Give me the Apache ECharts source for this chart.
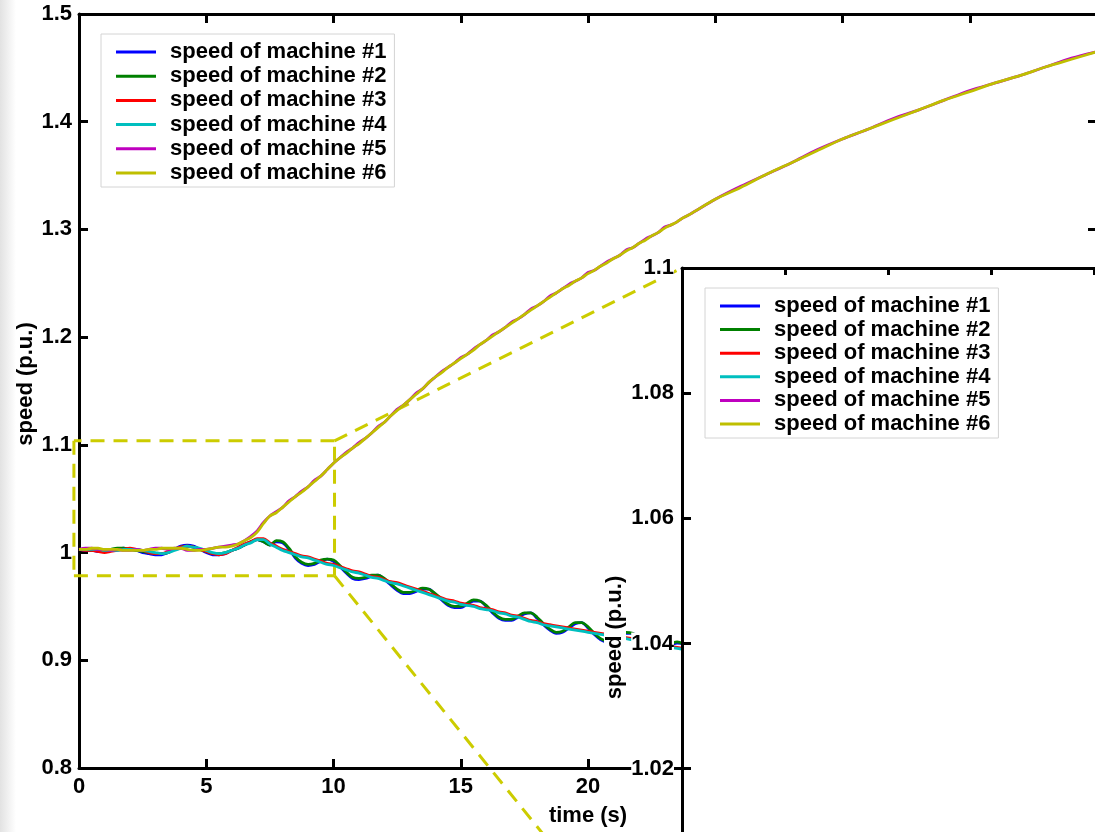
<!DOCTYPE html>
<html>
<head>
<meta charset="utf-8">
<title>speed of machines</title>
<script src="https://cdn.jsdelivr.net/npm/echarts@6.0.0/dist/echarts.min.js"></script>
<style>
    html, body { margin: 0; padding: 0; background: #fff; }
    #chart { width: 1095px; height: 832px; }
</style>
</head>
<body>
<div id="chart"></div>
<script>
// time samples (s): 0.25 s steps up to 24 s, then 1 s steps
var timeSec = [
    0, 0.25, 0.5, 0.75, 1, 1.25, 1.5, 1.75, 2, 2.25, 2.5, 2.75,
    3, 3.25, 3.5, 3.75, 4, 4.25, 4.5, 4.75, 5, 5.25, 5.5, 5.75,
    6, 6.25, 6.5, 6.75, 7, 7.25, 7.5, 7.75, 8, 8.25, 8.5, 8.75,
    9, 9.25, 9.5, 9.75, 10, 10.25, 10.5, 10.75, 11, 11.25, 11.5, 11.75,
    12, 12.25, 12.5, 12.75, 13, 13.25, 13.5, 13.75, 14, 14.25, 14.5, 14.75,
    15, 15.25, 15.5, 15.75, 16, 16.25, 16.5, 16.75, 17, 17.25, 17.5, 17.75,
    18, 18.25, 18.5, 18.75, 19, 19.25, 19.5, 19.75, 20, 20.25, 20.5, 20.75,
    21, 21.25, 21.5, 21.75, 22, 22.25, 22.5, 22.75, 23, 23.25, 23.5, 23.75,
    24, 25, 26, 27, 28, 29, 30, 31, 32, 33, 34, 35, 36, 37, 38, 39, 40
];

var speed1 = [
    1.003, 1.002, 1.002, 1.001, 1.001, 1.002, 1.003, 1.004, 1.003, 1.002, 1.000, 0.999,
    0.998, 0.998, 1.000, 1.003, 1.006, 1.007, 1.006, 1.003, 1.000, 0.998, 0.998, 0.999,
    1.002, 1.004, 1.007, 1.010, 1.012, 1.010, 1.007, 1.010, 1.009, 1.003, 0.995, 0.990,
    0.988, 0.989, 0.992, 0.994, 0.992, 0.987, 0.981, 0.976, 0.975, 0.976, 0.978, 0.979,
    0.975, 0.970, 0.965, 0.962, 0.962, 0.964, 0.966, 0.966, 0.961, 0.956, 0.951, 0.949,
    0.949, 0.952, 0.955, 0.955, 0.950, 0.944, 0.939, 0.937, 0.937, 0.940, 0.943, 0.944,
    0.939, 0.933, 0.928, 0.925, 0.926, 0.930, 0.934, 0.935, 0.930, 0.924, 0.919, 0.917,
    0.918, 0.922, 0.925, 0.925, 0.920, 0.914, 0.910, 0.909, 0.910, 0.914, 0.916, 0.915,
    0.910
];
var speed2 = [
    1.003, 1.003, 1.002, 1.002, 1.002, 1.003, 1.004, 1.004, 1.003, 1.002, 1.001, 1.000,
    0.999, 0.999, 1.000, 1.003, 1.005, 1.006, 1.005, 1.003, 1.001, 0.999, 0.999, 1.000,
    1.002, 1.004, 1.007, 1.010, 1.012, 1.010, 1.007, 1.011, 1.010, 1.004, 0.996, 0.991,
    0.989, 0.990, 0.993, 0.994, 0.993, 0.988, 0.982, 0.977, 0.976, 0.977, 0.979, 0.979,
    0.976, 0.971, 0.966, 0.963, 0.963, 0.965, 0.967, 0.966, 0.962, 0.957, 0.952, 0.950,
    0.950, 0.953, 0.956, 0.955, 0.951, 0.945, 0.940, 0.938, 0.938, 0.941, 0.944, 0.944,
    0.940, 0.934, 0.929, 0.926, 0.927, 0.931, 0.935, 0.935, 0.931, 0.925, 0.920, 0.918,
    0.919, 0.923, 0.926, 0.925, 0.921, 0.915, 0.911, 0.910, 0.911, 0.915, 0.917, 0.915,
    0.911
];
var speed3 = [
    1.003, 1.002, 1.002, 1.001, 1.000, 1.001, 1.002, 1.003, 1.004, 1.003, 1.002, 1.000,
    0.999, 0.999, 1.001, 1.003, 1.005, 1.006, 1.005, 1.003, 1.001, 0.999, 0.998, 0.999,
    1.002, 1.005, 1.008, 1.010, 1.013, 1.013, 1.009, 1.006, 1.003, 1.001, 0.999, 0.997,
    0.996, 0.994, 0.992, 0.990, 0.989, 0.987, 0.985, 0.983, 0.982, 0.980, 0.978, 0.977,
    0.975, 0.973, 0.972, 0.970, 0.968, 0.966, 0.964, 0.962, 0.960, 0.958, 0.956, 0.955,
    0.953, 0.952, 0.951, 0.949, 0.948, 0.947, 0.945, 0.944, 0.942, 0.941, 0.939, 0.937,
    0.936, 0.934, 0.933, 0.932, 0.931, 0.930, 0.929, 0.928, 0.927, 0.926, 0.925, 0.924,
    0.923, 0.922, 0.921, 0.920, 0.919, 0.918, 0.916, 0.915, 0.914, 0.913, 0.912, 0.911,
    0.910
];
var speed4 = [
    1.003, 1.003, 1.003, 1.003, 1.002, 1.002, 1.002, 1.003, 1.003, 1.003, 1.002, 1.001,
    1.000, 0.999, 1.000, 1.002, 1.004, 1.006, 1.005, 1.004, 1.002, 1.000, 0.999, 1.000,
    1.002, 1.004, 1.007, 1.009, 1.012, 1.012, 1.008, 1.005, 1.002, 1.000, 0.998, 0.996,
    0.995, 0.993, 0.991, 0.989, 0.988, 0.986, 0.984, 0.982, 0.981, 0.979, 0.977, 0.976,
    0.974, 0.972, 0.971, 0.969, 0.967, 0.965, 0.963, 0.961, 0.959, 0.957, 0.955, 0.954,
    0.952, 0.951, 0.950, 0.948, 0.947, 0.946, 0.944, 0.943, 0.941, 0.940, 0.938, 0.936,
    0.935, 0.933, 0.932, 0.931, 0.930, 0.929, 0.928, 0.927, 0.926, 0.925, 0.924, 0.923,
    0.922, 0.921, 0.920, 0.919, 0.918, 0.917, 0.915, 0.914, 0.913, 0.912, 0.911, 0.910,
    0.909
];
var speed5 = [
    1.003, 1.004, 1.004, 1.003, 1.003, 1.002, 1.003, 1.002, 1.002, 1.003, 1.002, 1.003,
    1.004, 1.004, 1.003, 1.004, 1.004, 1.002, 1.002, 1.003, 1.003, 1.004, 1.005, 1.006,
    1.007, 1.008, 1.011, 1.015, 1.020, 1.028, 1.034, 1.038, 1.042, 1.048, 1.052, 1.057,
    1.061, 1.067, 1.071, 1.077, 1.083, 1.088, 1.093, 1.097, 1.102, 1.106, 1.111, 1.117,
    1.121, 1.127, 1.133, 1.137, 1.142, 1.148, 1.152, 1.158, 1.163, 1.168, 1.172, 1.176,
    1.181, 1.184, 1.189, 1.193, 1.197, 1.202, 1.205, 1.209, 1.214, 1.217, 1.221, 1.226,
    1.229, 1.233, 1.238, 1.241, 1.245, 1.249, 1.252, 1.255, 1.260, 1.262, 1.266, 1.270,
    1.273, 1.276, 1.281, 1.283, 1.287, 1.291, 1.294, 1.297, 1.302, 1.304, 1.307, 1.311,
    1.314, 1.328, 1.340, 1.351, 1.362, 1.374, 1.384, 1.393, 1.403, 1.411, 1.420, 1.429,
    1.436, 1.443, 1.451, 1.459, 1.465
];
var speed6 = [
    1.003, 1.003, 1.004, 1.004, 1.003, 1.003, 1.003, 1.002, 1.002, 1.002, 1.002, 1.003,
    1.003, 1.004, 1.004, 1.004, 1.004, 1.003, 1.002, 1.002, 1.003, 1.004, 1.005, 1.005,
    1.006, 1.008, 1.011, 1.014, 1.019, 1.027, 1.034, 1.037, 1.042, 1.047, 1.052, 1.056,
    1.061, 1.066, 1.071, 1.077, 1.083, 1.088, 1.092, 1.097, 1.101, 1.106, 1.111, 1.116,
    1.121, 1.127, 1.132, 1.137, 1.142, 1.147, 1.152, 1.158, 1.163, 1.167, 1.172, 1.176,
    1.180, 1.184, 1.188, 1.193, 1.197, 1.201, 1.205, 1.209, 1.213, 1.217, 1.221, 1.225,
    1.229, 1.233, 1.237, 1.241, 1.245, 1.248, 1.252, 1.255, 1.259, 1.262, 1.266, 1.269,
    1.273, 1.276, 1.280, 1.283, 1.287, 1.290, 1.294, 1.297, 1.301, 1.304, 1.307, 1.311,
    1.314, 1.328, 1.339, 1.351, 1.362, 1.373, 1.384, 1.393, 1.402, 1.411, 1.420, 1.428,
    1.436, 1.443, 1.451, 1.458, 1.465
];

var machineNames = [
    "speed of machine #1", "speed of machine #2", "speed of machine #3",
    "speed of machine #4", "speed of machine #5", "speed of machine #6"
];
var machineSpeeds = [speed1, speed2, speed3, speed4, speed5, speed6];
var machineColors = ["#0000ff", "#008000", "#ff0000", "#00bfbf", "#bf00bf", "#bfbf00"];

// dashed zoom box (time / speed limits) and where its links meet the inset corners
var boxTime = [-0.2, 10.04];
var boxSpeed = [0.9785, 1.1037];
var linkEndTime = 23.69;
var linkEndSpeed = [0.579, 1.2642];

var FONT = "'Liberation Sans', Arial, sans-serif";
var textBold = { color: "#000", fontFamily: FONT, fontWeight: "bold", fontSize: 22 };

function pairs(xs, ys) {
    return ys.map(function (v, i) {
        return [xs[i], v];
    });
}

// segments [t1, v1, t2, v2] of the zoom box and its two link lines
var zoomSegments = [
    [boxTime[0], boxSpeed[0], boxTime[1], boxSpeed[0]],
    [boxTime[1], boxSpeed[0], boxTime[1], boxSpeed[1]],
    [boxTime[1], boxSpeed[1], boxTime[0], boxSpeed[1]],
    [boxTime[0], boxSpeed[1], boxTime[0], boxSpeed[0]],
    [boxTime[1], boxSpeed[1], linkEndTime, linkEndSpeed[1]],
    [boxTime[1], boxSpeed[0], linkEndTime, linkEndSpeed[0]],
];

function frame(extra) {
    var axis = {
        type: "value",
        axisLine: { onZero: false, lineStyle: { color: "#000", width: 3 } },
        axisTick: { inside: true, length: 9, lineStyle: { color: "#000", width: 3 } },
        axisLabel: { show: false },
        splitLine: { show: false },
    };
    return Object.assign(axis, extra);
}

function machineLine(k, axisIdx, layer) {
    return {
        name: machineNames[k],
        type: "line",
        xAxisIndex: axisIdx,
        yAxisIndex: axisIdx,
        zlevel: layer,
        data: pairs(timeSec, machineSpeeds[k]),
        showSymbol: false,
        symbol: "none",
        smooth: 0.3,
        lineStyle: { color: machineColors[k], width: 2.8 },
        itemStyle: { color: machineColors[k] },
        emphasis: { disabled: true },
    };
}

function legendBox(left, top, gap, layer) {
    return {
        data: machineNames,
        orient: "vertical",
        left: left,
        top: top,
        zlevel: layer,
        selectedMode: false,
        icon: "rect",
        itemWidth: 40,
        itemHeight: 3,
        itemGap: gap,
        padding: [7, 8, 3, 15],
        backgroundColor: "#fff",
        borderColor: "#d4d4d4",
        borderWidth: 1,
        borderRadius: 0,
        textStyle: Object.assign({ lineHeight: 22, padding: [0, 0, 0, 9] }, textBold),
    };
}

var series = [];
for (var k = 0; k < 6; k++) series.push(machineLine(k, 0, 0));
series.push({
    type: "custom",
    xAxisIndex: 0,
    yAxisIndex: 0,
    clip: false,
    silent: true,
    data: zoomSegments,
    renderItem: function (params, api) {
        var p1 = api.coord([api.value(0), api.value(1)]);
        var p2 = api.coord([api.value(2), api.value(3)]);
        return {
            type: "line",
            shape: { x1: p1[0], y1: p1[1], x2: p2[0], y2: p2[1] },
            style: { stroke: "#cccc00", lineWidth: 3, lineDash: [14, 9], fill: null },
        };
    },
});
for (var j = 0; j < 6; j++) series.push(machineLine(j, 2, 1));

var chart = echarts.init(document.getElementById("chart"));
chart.setOption({
    animation: false,
    backgroundColor: "#fff",
    graphic: [{
        type: "rect",
        left: 0,
        top: 0,
        z: -10,
        shape: { width: 16, height: 832 },
        style: {
            fill: new echarts.graphic.LinearGradient(0, 0, 1, 0, [
                { offset: 0, color: "#e2e2e2" },
                { offset: 1, color: "#ffffff" },
            ]),
        },
    }],
    grid: [
        { left: 79, top: 14, width: 1018, height: 754, outerBoundsMode: "none", containLabel: false },
        {
            left: 682, top: 268, width: 1030, height: 751, outerBoundsMode: "none", containLabel: false,
            show: true, backgroundColor: "#fff", borderWidth: 0, zlevel: 1,
        },
    ],
    xAxis: [
        frame({
            gridIndex: 0, position: "bottom", min: 0, max: 40, interval: 5,
            axisLabel: Object.assign({ show: true, margin: 8 }, textBold),
            name: "time (s)", nameLocation: "middle", nameGap: 37, nameTextStyle: textBold,
        }),
        frame({ gridIndex: 0, position: "top", min: 0, max: 40, interval: 5 }),
        frame({ gridIndex: 1, position: "bottom", min: 0, max: 10, interval: 1, zlevel: 1 }),
        frame({ gridIndex: 1, position: "top", min: 0, max: 10, interval: 1, zlevel: 1,
            axisTick: { inside: true, length: 7, lineStyle: { color: "#000", width: 3 } } }),
    ],
    yAxis: [
        frame({
            gridIndex: 0, position: "left", min: 0.8, max: 1.5, interval: 0.1,
            axisLabel: Object.assign({ show: true, margin: 7 }, textBold),
            name: "speed (p.u.)", nameLocation: "middle", nameGap: 42, nameMoveOverlap: false,
            nameTextStyle: Object.assign({ padding: [0, 0, 0, 14] }, textBold),
        }),
        frame({ gridIndex: 0, position: "right", min: 0.8, max: 1.5, interval: 0.1 }),
        frame({
            gridIndex: 1, position: "left", min: 0.98, max: 1.1, interval: 0.02, zlevel: 1,
            axisLabel: Object.assign({ show: true, margin: 8, backgroundColor: "#fff" }, textBold),
            name: "speed (p.u.)", nameLocation: "middle", nameGap: 56, nameMoveOverlap: false,
            nameTextStyle: Object.assign({ backgroundColor: "#fff", padding: [0, 0, 0, 12] }, textBold),
        }),
        frame({ gridIndex: 1, position: "right", min: 0.98, max: 1.1, interval: 0.02, zlevel: 1 }),
    ],
    legend: [legendBox(101, 34, 2.2, 0), legendBox(705, 288, 1.6, 1)],
    series: series,
});
</script>
</body>
</html>
